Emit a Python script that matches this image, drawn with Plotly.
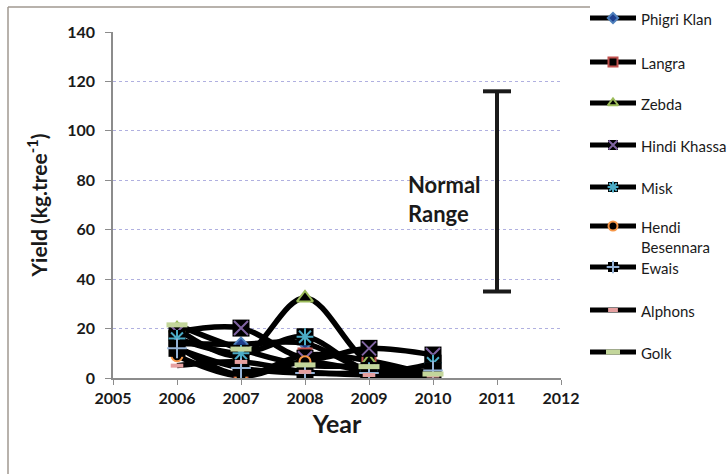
import plotly.graph_objects as go

# Yield per tree, cultivar by year
years = [2006, 2007, 2008, 2009, 2010]
phigri_klan = [14, 13.7, 14, 3, 2]
langra = [13, 1.2, 9.3, 7, 1]
zebda = [20, 9, 32.4, 6.6, 2.5]
hindi_khassa = [18.6, 20.2, 8, 12, 9.3]
misk = [16, 10, 16.7, 3, 6]
hendi_besennara = [9, 0.8, 6.6, 2.5, 0]
ewais = [12, 4, 2, 2, 3]
alphons = [5, 6.5, 2.5, 1.2, 1]
golk = [21.5, 11.7, 5.3, 4.6, 1.6]

# Normal range of yield
range_year = 2011
range_low = 35
range_high = 116

xtick_vals = [2005, 2006, 2007, 2008, 2009, 2010, 2011, 2012]
ytick_vals = [0, 20, 40, 60, 80, 100, 120, 140]

FONT = "Lato, 'Open Sans', sans-serif"
INK = "#1a1a1a"

# name, values, marker style, drawn on a black box
series = [
    ("Phigri Klan", phigri_klan, dict(symbol="diamond", color="#1f3f8f", line=dict(color="#4f81bd", width=2)), False),
    ("Langra", langra, dict(symbol="square", color="black", line=dict(color="#c0504d", width=2)), False),
    ("Zebda", zebda, dict(symbol="triangle-up", color="black", line=dict(color="#9bbb59", width=2)), False),
    ("Hindi Khassa", hindi_khassa, dict(symbol="x-thin", color="#8064a2", line=dict(color="#8064a2", width=2)), True),
    ("Misk", misk, dict(symbol="asterisk", color="#4bacc6", line=dict(color="#4bacc6", width=2)), True),
    ("Hendi<br>Besennara", hendi_besennara, dict(symbol="circle", color="black", line=dict(color="#f79646", width=2)), False),
    ("Ewais", ewais, dict(symbol="cross-thin", color="#95b3d7", line=dict(color="#95b3d7", width=2)), True),
    ("Alphons", alphons, dict(symbol="line-ew", color="#e6a0a0", line=dict(color="#e6a0a0", width=4)), False),
    ("Golk", golk, dict(symbol="line-ew", color="#c3d69b", line=dict(color="#c3d69b", width=5)), False),
]
plot_sizes = [10, 13, 14, 14, 14, 11, 14, 9, 15]
key_sizes = [8, 9, 9, 9, 9, 9, 9, 7, 10]
key_rows = [18, 62, 103, 145, 187, 226, 267, 310, 352]

fig = go.Figure()

# Smoothed lines first, markers on top
for name, vals, marker, boxed in series:
    fig.add_trace(go.Scatter(
        x=years, y=vals, mode="lines", name=name, hoverinfo="skip",
        line=dict(color="black", width=5.5, shape="spline", smoothing=1.0),
    ))
for (name, vals, marker, boxed), size in zip(series, plot_sizes):
    if boxed:
        fig.add_trace(go.Scatter(
            x=years, y=vals, mode="markers", hoverinfo="skip",
            marker=dict(symbol="square", size=17, color="black"),
        ))
    fig.add_trace(go.Scatter(x=years, y=vals, mode="markers", name=name, marker=dict(size=size, **marker)))

# Normal range bar with end caps
fig.add_trace(go.Scatter(
    x=[range_year, range_year], y=[range_low, range_high], mode="lines+markers",
    line=dict(color=INK, width=4),
    marker=dict(symbol="line-ew", size=20, line=dict(color=INK, width=4)),
))

fig.add_annotation(
    x=2009.58, y=72.6, xref="x", yref="y", text="Normal<br>Range",
    showarrow=False, xanchor="left", yanchor="middle", align="left",
    font=dict(family=FONT, size=22, color=INK, weight="bold"),
)

# Key on a helper axis (pixel units, y measured from the top)
for (name, vals, marker, boxed), size, row in zip(series, key_sizes, key_rows):
    fig.add_trace(go.Scatter(
        x=[5, 51], y=[row, row], xaxis="x2", yaxis="y2", mode="lines",
        line=dict(color="black", width=5), hoverinfo="skip",
    ))
    if boxed:
        fig.add_trace(go.Scatter(
            x=[28], y=[row], xaxis="x2", yaxis="y2", mode="markers", hoverinfo="skip",
            marker=dict(symbol="square", size=10, color="black"),
        ))
    fig.add_trace(go.Scatter(
        x=[28], y=[row], xaxis="x2", yaxis="y2", mode="markers", hoverinfo="skip",
        marker=dict(size=size, **marker),
    ))
    fig.add_annotation(
        x=54, y=row - 10, xref="x2", yref="y2", text=name, showarrow=False,
        xanchor="left", yanchor="top", align="left",
        font=dict(family=FONT, size=15, color=INK),
    )

# Outer chart frame (left and top edges)
W, H = 615, 378
fig.add_shape(type="line", xref="paper", yref="paper", x0=(8 - 113) / W, x1=(8 - 113) / W,
              y0=-0.3, y1=(378 - 7) / H, line=dict(color="#a09890", width=1.5))
fig.add_shape(type="line", xref="paper", yref="paper", x0=(8 - 113) / W, x1=(590 - 113) / W,
              y0=(378 - 7) / H, y1=(378 - 7) / H, line=dict(color="#a09890", width=1.5))

fig.update_layout(
    width=728, height=474,
    margin=dict(l=113, r=0, t=0, b=96, autoexpand=False),
    paper_bgcolor="white", plot_bgcolor="white",
    showlegend=False,
    font=dict(family=FONT, color=INK),
    xaxis=dict(
        domain=[0, 448 / W], range=[2005, 2012], tickvals=xtick_vals, showgrid=False, zeroline=False,
        showline=True, linecolor="#8c8c8c", linewidth=1.5, automargin=False,
        ticks="outside", ticklen=5, tickcolor="#8c8c8c", ticklabelstandoff=0,
        tickfont=dict(family=FONT, size=16, color=INK, weight="bold"),
        title=dict(text="Year", font=dict(family=FONT, size=25, color=INK, weight="bold"), standoff=10),
    ),
    yaxis=dict(
        domain=[0, 346 / H], range=[0, 140], tickvals=ytick_vals,
        showgrid=True, gridcolor="#b0b0e0", griddash="dot", gridwidth=1,
        zeroline=False, showline=True, linecolor="#8c8c8c", linewidth=1.5, automargin=False,
        ticks="outside", ticklen=6, tickcolor="#8c8c8c", ticklabelstandoff=7,
        tickfont=dict(family=FONT, size=16, color=INK, weight="bold"),
        title=dict(text="Yield (kg.tree<sup>-1</sup>)", font=dict(family=FONT, size=21, color=INK, weight="bold"), standoff=14),
    ),
    xaxis2=dict(domain=[(585 - 113) / W, 1], range=[0, 143], visible=False, fixedrange=True),
    yaxis2=dict(domain=[0, 1], range=[378, 0], visible=False, fixedrange=True, anchor="x2"),
)

fig.write_html("out.html")
